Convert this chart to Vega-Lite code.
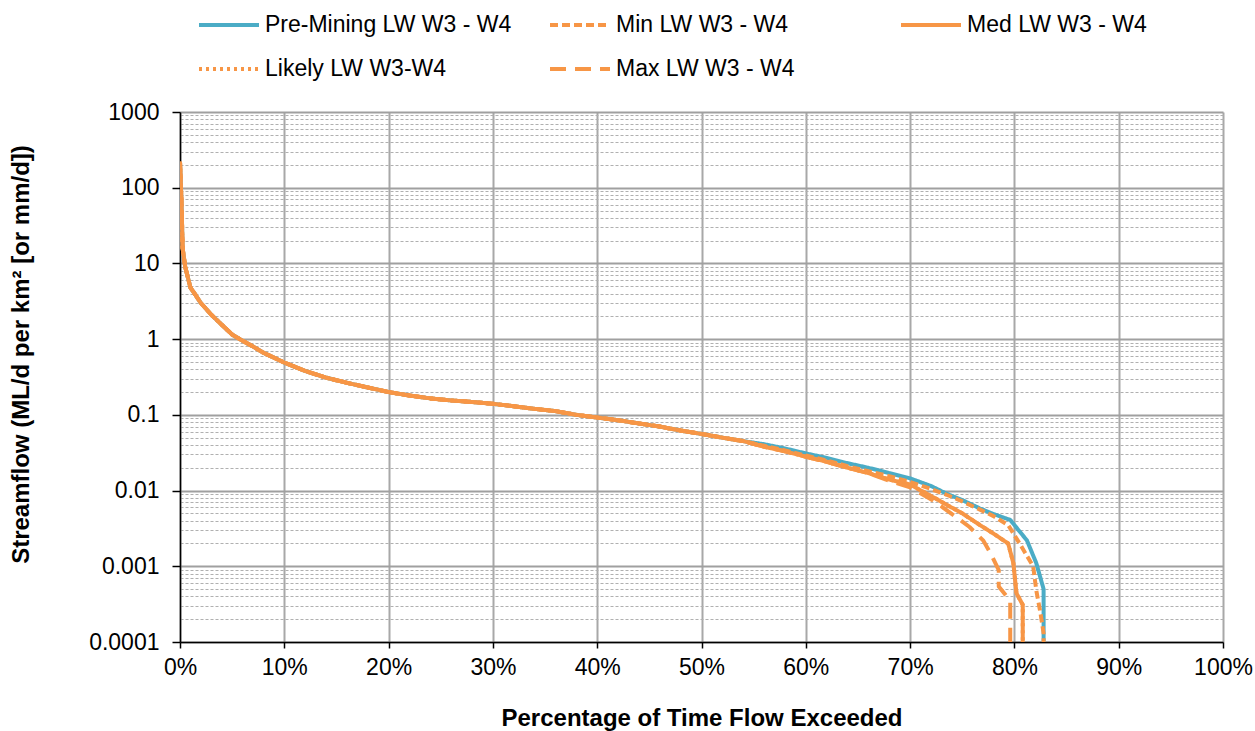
{
  "$schema": "https://vega.github.io/schema/vega-lite/v6.json",
  "width": 1043,
  "height": 530,
  "autosize": "none",
  "padding": {"left": 180, "top": 112, "right": 32, "bottom": 89},
  "background": "white",
  "config": {
    "view": {"stroke": null},
    "font": "Liberation Sans"
  },
  "datasets": {
    "names": [
      {"k": "P", "name": "Pre-Mining LW W3 - W4"},
      {"k": "N", "name": "Min LW W3 - W4"},
      {"k": "D", "name": "Med LW W3 - W4"},
      {"k": "L", "name": "Likely LW W3-W4"},
      {"k": "X", "name": "Max LW W3 - W4"}
    ]
  },
  "data": {
    "values": [
      {"i": 1, "x": 0, "P": 220, "N": 220, "D": 220, "L": 220, "X": 220},
      {"i": 2, "x": 0.15, "P": 60, "N": 60, "D": 60, "L": 60, "X": 60},
      {"i": 3, "x": 0.25, "P": 16, "N": 16, "D": 16, "L": 16, "X": 16},
      {"i": 4, "x": 0.5, "P": 9, "N": 9, "D": 9, "L": 9, "X": 9},
      {"i": 5, "x": 1, "P": 4.8, "N": 4.8, "D": 4.8, "L": 4.8, "X": 4.8},
      {"i": 6, "x": 1.5, "P": 3.8, "N": 3.8, "D": 3.8, "L": 3.8, "X": 3.8},
      {"i": 7, "x": 2, "P": 3.0, "N": 3.0, "D": 3.0, "L": 3.0, "X": 3.0},
      {"i": 8, "x": 3, "P": 2.1, "N": 2.1, "D": 2.1, "L": 2.1, "X": 2.1},
      {"i": 9, "x": 4, "P": 1.55, "N": 1.55, "D": 1.55, "L": 1.55, "X": 1.55},
      {"i": 10, "x": 5, "P": 1.15, "N": 1.15, "D": 1.15, "L": 1.15, "X": 1.15},
      {"i": 11, "x": 6, "P": 0.95, "N": 0.95, "D": 0.95, "L": 0.95, "X": 0.95},
      {"i": 12, "x": 7, "P": 0.8, "N": 0.8, "D": 0.8, "L": 0.8, "X": 0.8},
      {"i": 13, "x": 8, "P": 0.66, "N": 0.66, "D": 0.66, "L": 0.66, "X": 0.66},
      {"i": 14, "x": 9, "P": 0.57, "N": 0.57, "D": 0.57, "L": 0.57, "X": 0.57},
      {"i": 15, "x": 10, "P": 0.49, "N": 0.49, "D": 0.49, "L": 0.49, "X": 0.49},
      {"i": 16, "x": 12, "P": 0.38, "N": 0.38, "D": 0.38, "L": 0.38, "X": 0.38},
      {"i": 17, "x": 14, "P": 0.31, "N": 0.31, "D": 0.31, "L": 0.31, "X": 0.31},
      {"i": 18, "x": 16, "P": 0.265, "N": 0.265, "D": 0.265, "L": 0.265, "X": 0.265},
      {"i": 19, "x": 18, "P": 0.23, "N": 0.23, "D": 0.23, "L": 0.23, "X": 0.23},
      {"i": 20, "x": 20, "P": 0.2, "N": 0.2, "D": 0.2, "L": 0.2, "X": 0.2},
      {"i": 21, "x": 22, "P": 0.18, "N": 0.18, "D": 0.18, "L": 0.18, "X": 0.18},
      {"i": 22, "x": 24, "P": 0.165, "N": 0.165, "D": 0.165, "L": 0.165, "X": 0.165},
      {"i": 23, "x": 26, "P": 0.155, "N": 0.155, "D": 0.155, "L": 0.155, "X": 0.155},
      {"i": 24, "x": 28, "P": 0.148, "N": 0.148, "D": 0.148, "L": 0.148, "X": 0.148},
      {"i": 25, "x": 30, "P": 0.14, "N": 0.14, "D": 0.14, "L": 0.14, "X": 0.14},
      {"i": 26, "x": 32, "P": 0.13, "N": 0.13, "D": 0.13, "L": 0.13, "X": 0.13},
      {"i": 27, "x": 34, "P": 0.12, "N": 0.12, "D": 0.12, "L": 0.12, "X": 0.12},
      {"i": 28, "x": 36, "P": 0.112, "N": 0.112, "D": 0.112, "L": 0.112, "X": 0.112},
      {"i": 29, "x": 38, "P": 0.1, "N": 0.1, "D": 0.1, "L": 0.1, "X": 0.1},
      {"i": 30, "x": 40, "P": 0.092, "N": 0.092, "D": 0.092, "L": 0.092, "X": 0.092},
      {"i": 31, "x": 42, "P": 0.085, "N": 0.085, "D": 0.085, "L": 0.085, "X": 0.085},
      {"i": 32, "x": 44, "P": 0.077, "N": 0.077, "D": 0.077, "L": 0.077, "X": 0.077},
      {"i": 33, "x": 46, "P": 0.07, "N": 0.07, "D": 0.07, "L": 0.07, "X": 0.07},
      {"i": 34, "x": 48, "P": 0.062, "N": 0.062, "D": 0.062, "L": 0.062, "X": 0.062},
      {"i": 35, "x": 50, "P": 0.056, "N": 0.056, "D": 0.056, "L": 0.056, "X": 0.056},
      {"i": 36, "x": 52, "P": 0.05, "N": 0.05, "D": 0.05, "L": 0.05, "X": 0.05},
      {"i": 37, "x": 54, "P": 0.045, "N": 0.045, "D": 0.045, "L": 0.045, "X": 0.045},
      {"i": 38, "x": 56, "P": 0.041, "N": 0.039, "D": 0.038, "L": 0.038, "X": 0.038},
      {"i": 39, "x": 58, "P": 0.036, "N": 0.034, "D": 0.033, "L": 0.033, "X": 0.033},
      {"i": 40, "x": 60, "P": 0.031, "N": 0.029, "D": 0.028, "L": 0.028, "X": 0.028},
      {"i": 41, "x": 62, "P": 0.027, "N": 0.025, "D": 0.024, "L": 0.024, "X": 0.024},
      {"i": 42, "x": 64, "P": 0.023, "N": 0.021, "D": 0.02, "L": 0.02, "X": 0.02},
      {"i": 43, "x": 66, "P": 0.02, "N": 0.018, "D": 0.017, "L": 0.017, "X": 0.017},
      {"i": 44, "x": 68, "P": 0.017, "N": 0.0155, "D": 0.014, "L": 0.014, "X": 0.0135},
      {"i": 45, "x": 70, "P": 0.0145, "N": 0.013, "D": 0.012, "L": 0.012, "X": 0.011},
      {"i": 46, "x": 72, "P": 0.0115, "N": 0.0105, "D": 0.0085, "L": 0.0085},
      {"i": 47, "x": 72.2, "X": 0.0074},
      {"i": 48, "x": 73.5, "P": 0.0091, "N": 0.0088, "D": 0.0065, "L": 0.0065},
      {"i": 49, "x": 74.8, "X": 0.0041},
      {"i": 50, "x": 75, "P": 0.0075, "N": 0.0072, "D": 0.005, "L": 0.005},
      {"i": 51, "x": 75.7, "X": 0.0033},
      {"i": 52, "x": 76.7, "P": 0.0058, "N": 0.0056, "D": 0.0035, "L": 0.0035},
      {"i": 53, "x": 77, "X": 0.0022},
      {"i": 54, "x": 77.7, "X": 0.0015},
      {"i": 55, "x": 78, "P": 0.0049, "N": 0.0046, "D": 0.0027, "L": 0.0027},
      {"i": 56, "x": 78.5, "X": 0.00089},
      {"i": 57, "x": 78.5, "X": 0.00054},
      {"i": 58, "x": 79.4, "N": 0.0035, "D": 0.002, "L": 0.002},
      {"i": 59, "x": 79.6, "P": 0.0041, "X": 0.00035},
      {"i": 60, "x": 79.6, "X": 0.00005},
      {"i": 61, "x": 79.9, "D": 0.0011, "L": 0.0011},
      {"i": 62, "x": 80.2, "D": 0.00044, "L": 0.00044},
      {"i": 63, "x": 80.4, "P": 0.003},
      {"i": 64, "x": 80.5, "N": 0.002},
      {"i": 65, "x": 80.8, "D": 0.00031, "L": 0.00031},
      {"i": 66, "x": 80.8, "D": 0.00005, "L": 0.00005},
      {"i": 67, "x": 81.2, "P": 0.0022},
      {"i": 68, "x": 81.8, "N": 0.001},
      {"i": 69, "x": 82.1, "P": 0.0011, "N": 0.00048},
      {"i": 70, "x": 82.5, "N": 0.00024},
      {"i": 71, "x": 82.8, "P": 0.0005, "N": 0.00013},
      {"i": 72, "x": 82.8, "P": 0.00005, "N": 0.00005}
    ]
  },
  "transform": [
    {"fold": ["P", "N", "D", "L", "X"], "as": ["k", "y"]},
    {"filter": "isValid(datum.y)"},
    {"lookup": "k", "from": {"data": {"name": "names"}, "key": "k", "fields": ["name"]}}
  ],
  "mark": {"type": "line", "strokeWidth": 4, "clip": true, "strokeJoin": "round"},
  "encoding": {
    "x": {
      "field": "x",
      "type": "quantitative",
      "scale": {"domain": [0, 100], "nice": false},
      "axis": {
        "title": "Percentage of Time Flow Exceeded",
        "values": [0, 10, 20, 30, 40, 50, 60, 70, 80, 90, 100],
        "labelExpr": "datum.value + '%'",
        "labelFlush": false,
        "labelBound": false,
        "labelFontSize": 23,
        "labelColor": "#000000",
        "labelPadding": 8,
        "tickSize": 6,
        "tickColor": "#000000",
        "tickWidth": 1.5,
        "domainColor": "#000000",
        "domainWidth": 1.5,
        "grid": true,
        "gridColor": "#a8a8a8",
        "gridWidth": 2,
        "titleFontSize": 24,
        "titleFontWeight": "bold",
        "titleColor": "#000000",
        "titlePadding": 27
      }
    },
    "y": {
      "field": "y",
      "type": "quantitative",
      "scale": {"type": "log", "domain": [0.0001, 1000], "nice": false},
      "axis": {
        "title": "Streamflow (ML/d per km² [or mm/d])",
        "values": [0.0001, 0.0002, 0.0003, 0.0004, 0.0005, 0.0006, 0.0007, 0.0008, 0.0009,
                   0.001, 0.002, 0.003, 0.004, 0.005, 0.006, 0.007, 0.008, 0.009,
                   0.01, 0.02, 0.03, 0.04, 0.05, 0.06, 0.07, 0.08, 0.09,
                   0.1, 0.2, 0.3, 0.4, 0.5, 0.6, 0.7, 0.8, 0.9,
                   1, 2, 3, 4, 5, 6, 7, 8, 9,
                   10, 20, 30, 40, 50, 60, 70, 80, 90,
                   100, 200, 300, 400, 500, 600, 700, 800, 900, 1000],
        "labelExpr": "abs(log(datum.value)/LN10 - round(log(datum.value)/LN10)) < 0.000001 ? '' + datum.value : ''",
        "labelOverlap": false,
        "labelBound": false,
        "labelFlush": false,
        "labelFontSize": 23,
        "labelColor": "#000000",
        "labelPadding": 13,
        "tickSize": 8,
        "tickColor": "#000000",
        "tickWidth": 1.5,
        "tickOpacity": {"condition": {"test": "abs(log(datum.value)/LN10 - round(log(datum.value)/LN10)) < 0.000001", "value": 1}, "value": 0},
        "domainColor": "#000000",
        "domainWidth": 1.5,
        "grid": true,
        "gridColor": {"condition": {"test": "abs(log(datum.value)/LN10 - round(log(datum.value)/LN10)) < 0.000001", "value": "#a0a0a0"}, "value": "#b0b0b0"},
        "gridDash": {"condition": {"test": "abs(log(datum.value)/LN10 - round(log(datum.value)/LN10)) < 0.000001", "value": []}, "value": [3, 2]},
        "gridWidth": {"condition": {"test": "abs(log(datum.value)/LN10 - round(log(datum.value)/LN10)) < 0.000001", "value": 1.8}, "value": 1.2},
        "titleFontSize": 24,
        "titleFontWeight": "bold",
        "titleColor": "#000000",
        "titlePadding": 55,
        "titleY": 242
      }
    },
    "color": {
      "field": "name",
      "type": "nominal",
      "scale": {
        "domain": ["Pre-Mining LW W3 - W4", "Min LW W3 - W4", "Med LW W3 - W4", "Likely LW W3-W4", "Max LW W3 - W4"],
        "range": ["#4BACC6", "#F79646", "#F79646", "#F79646", "#F79646"]
      },
      "legend": {
        "title": null,
        "orient": "none",
        "legendX": 17,
        "legendY": -119,
        "direction": "horizontal",
        "columns": 3,
        "gridAlign": "all",
        "columnPadding": 30,
        "rowPadding": -15,
        "symbolType": "stroke",
        "symbolSize": 3600,
        "symbolStrokeWidth": 4,
        "labelFontSize": 23,
        "labelColor": "#000000",
        "labelLimit": 400,
        "labelOffset": 4
      }
    },
    "strokeDash": {
      "field": "name",
      "type": "nominal",
      "scale": {
        "domain": ["Pre-Mining LW W3 - W4", "Min LW W3 - W4", "Med LW W3 - W4", "Likely LW W3-W4", "Max LW W3 - W4"],
        "range": [[1, 0], [8, 4], [1, 0], [3, 4], [16, 9]]
      },
      "legend": {
        "title": null,
        "orient": "none",
        "legendX": 17,
        "legendY": -119,
        "direction": "horizontal",
        "columns": 3,
        "gridAlign": "all",
        "columnPadding": 30,
        "rowPadding": -15,
        "symbolType": "stroke",
        "symbolSize": 3600,
        "symbolStrokeWidth": 4,
        "labelFontSize": 23,
        "labelColor": "#000000",
        "labelLimit": 400,
        "labelOffset": 4
      }
    },
    "order": {"field": "i", "type": "quantitative"}
  }
}
